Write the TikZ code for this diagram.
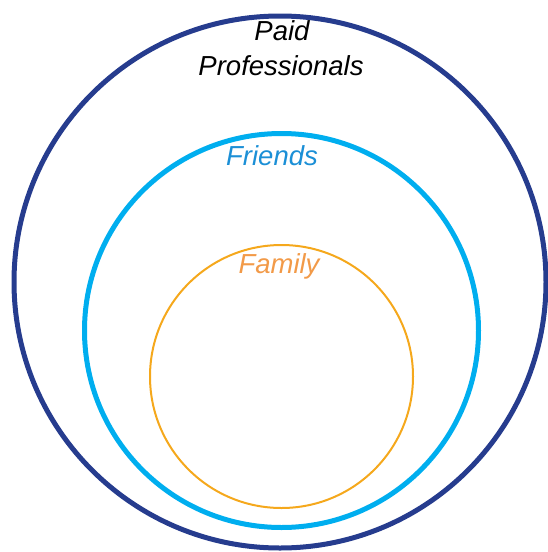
\documentclass[tikz,border=0pt]{standalone}
\usepackage{fontspec}
\setmainfont{Liberation Sans}
\definecolor{navy}{HTML}{263C8E}
\definecolor{sky}{HTML}{00AEEF}
\definecolor{skytext}{HTML}{1B8FD6}
\definecolor{amber}{HTML}{F5A81C}
\definecolor{ambertext}{HTML}{F29A48}
\begin{document}
\begin{tikzpicture}[x=1pt,y=-1pt,
  ring/.style={circle,inner sep=0pt,minimum size=#1},
  label text/.style={font=\fontsize{27.5}{35}\selectfont\itshape,align=center,inner sep=0pt,anchor=base}]
\useasboundingbox (0,0) rectangle (548,552);
% nested circles
\node[ring=532pt,draw=navy,line width=5pt] (paid) at (280,282) {};
\node[ring=394pt,draw=sky,line width=5pt] (friends) at (281.5,330.5) {};
\node[ring=263pt,draw=amber,line width=2pt] (family) at (281.5,376.5) {};
% labels
\node[label text] (paidlbl) at (282,40) {Paid};
\node[label text] (proflbl) at (281,75) {Professionals};
\node[label text,text=skytext] (friendslbl) at (272,165) {Friends};
\node[label text,text=ambertext] (familylbl) at (279,273) {Family};
\end{tikzpicture}
\end{document}
